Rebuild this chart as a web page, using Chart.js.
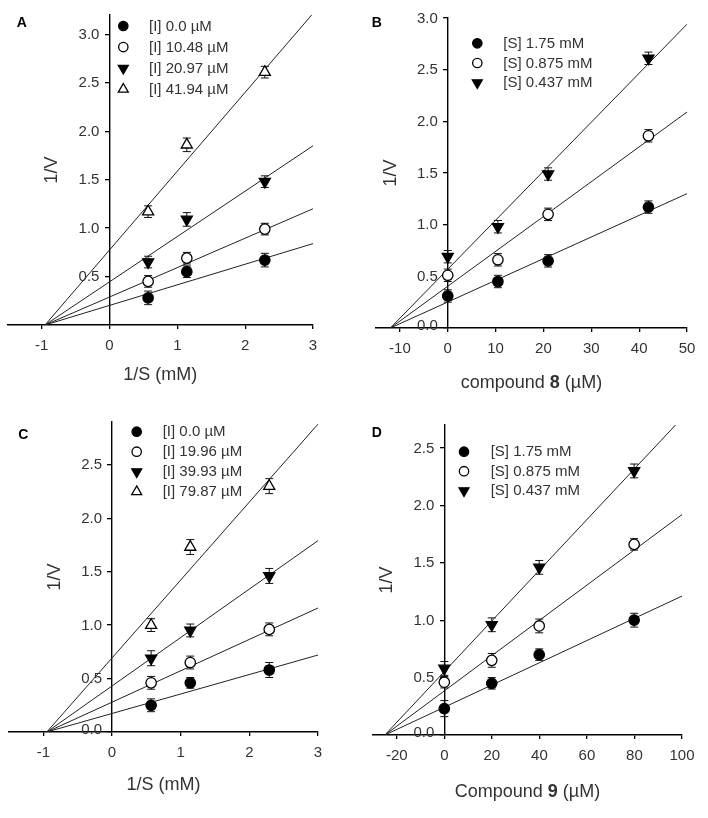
<!DOCTYPE html>
<html><head><meta charset="utf-8">
<script src="https://cdn.jsdelivr.net/npm/chart.js@4.4.0/dist/chart.umd.min.js"></script>
<style>
html,body{margin:0;padding:0;background:#fff;}
#wrap{position:relative;width:708px;height:818px;background:#fff;}
canvas{position:absolute;}
</style></head><body>
<div id="wrap">
<canvas id="cA" width="354" height="400" style="left:0;top:0"></canvas>
<canvas id="cB" width="354" height="400" style="left:354px;top:0"></canvas>
<canvas id="cC" width="354" height="418" style="left:0;top:400px"></canvas>
<canvas id="cD" width="354" height="418" style="left:354px;top:400px"></canvas>
</div>
<script>
// ---------- DATA ----------
// Panel A: Lineweaver-Burk, compound 8
const xA = [0.57, 1.14, 2.29];
const labelsA = ['[I] 0.0 \u00b5M', '[I] 10.48 \u00b5M', '[I] 20.97 \u00b5M', '[I] 41.94 \u00b5M'];
const yA0 = [0.28, 0.55, 0.67];
const yA1 = [0.45, 0.69, 0.99];
const yA2 = [0.65, 1.09, 1.48];
const yA3 = [1.17, 1.86, 2.61];
const eA0 = [0.07, 0.06, 0.07];
const eA1 = [0.06, 0.06, 0.06];
const eA2 = [0.06, 0.07, 0.06];
const eA3 = [0.06, 0.07, 0.06];
const fitA = [[[-0.95, 0], [3, 0.84]], [[-0.95, 0], [3, 1.20]], [[-0.95, 0], [3, 1.85]], [[-0.95, 0], [2.98, 3.2]]];
const xTicksA = [-1, 0, 1, 2, 3];
const yTicksA = [0.5, 1.0, 1.5, 2.0, 2.5, 3.0];

// Panel B: Dixon, compound 8
const xB = [0, 10.48, 20.97, 41.94];
const labelsB = ['[S] 1.75 mM', '[S] 0.875 mM', '[S] 0.437 mM'];
const yB0 = [0.31, 0.45, 0.65, 1.17];
const yB1 = [0.51, 0.66, 1.10, 1.86];
const yB2 = [0.69, 0.98, 1.49, 2.61];
const eB0 = [0.06, 0.06, 0.06, 0.06];
const eB1 = [0.06, 0.06, 0.06, 0.06];
const eB2 = [0.06, 0.06, 0.06, 0.06];
const fitB = [[[-12, 0], [50, 1.30]], [[-12, 0], [50, 2.09]], [[-12, 0], [50, 2.94]]];
const xTicksB = [-10, 0, 10, 20, 30, 40, 50];
const yTicksB = [0.0, 0.5, 1.0, 1.5, 2.0, 2.5, 3.0];

// Panel C: Lineweaver-Burk, compound 9
const xC = [0.57, 1.14, 2.29];
const labelsC = ['[I] 0.0 \u00b5M', '[I] 19.96 \u00b5M', '[I] 39.93 \u00b5M', '[I] 79.87 \u00b5M'];
const yC0 = [0.25, 0.46, 0.58];
const yC1 = [0.46, 0.65, 0.96];
const yC2 = [0.69, 0.95, 1.46];
const yC3 = [1.00, 1.73, 2.30];
const eC0 = [0.06, 0.05, 0.07];
const eC1 = [0.06, 0.06, 0.06];
const eC2 = [0.07, 0.06, 0.07];
const eC3 = [0.06, 0.07, 0.07];
const fitC = [[[-0.95, 0], [3, 0.72]], [[-0.95, 0], [3, 1.16]], [[-0.95, 0], [3, 1.79]], [[-0.95, 0], [3, 2.88]]];
const xTicksC = [-1, 0, 1, 2, 3];
const yTicksC = [0.0, 0.5, 1.0, 1.5, 2.0, 2.5];

// Panel D: Dixon, compound 9
const xD = [0, 19.96, 39.93, 79.87];
const labelsD = ['[S] 1.75 mM', '[S] 0.875 mM', '[S] 0.437 mM'];
const yD0 = [0.23, 0.45, 0.70, 1.00];
const yD1 = [0.46, 0.65, 0.95, 1.66];
const yD2 = [0.58, 0.96, 1.46, 2.30];
const eD0 = [0.07, 0.05, 0.05, 0.06];
const eD1 = [0.05, 0.06, 0.06, 0.05];
const eD2 = [0.06, 0.06, 0.06, 0.06];
const fitD = [[[-25, 0], [100, 1.21]], [[-25, 0], [100, 1.92]], [[-25, 0], [100, 2.76]]];
const xTicksD = [-20, 0, 20, 40, 60, 80, 100];
const yTicksD = [0.0, 0.5, 1.0, 1.5, 2.0, 2.5];

// ---------- STYLE ----------
const FONT = '"Liberation Sans", Arial, Helvetica, sans-serif';
const TXT = '#333333';
const MARKS = [
  {style: 'circle', rot: 0, fill: '#000000', r: 5.2},
  {style: 'circle', rot: 0, fill: '#ffffff', r: 5.2},
  {style: 'triangle', rot: 180, fill: '#000000', r: 6.4},
  {style: 'triangle', rot: 0, fill: '#ffffff', r: 6.4}
];

function drawMarker(ctx, m, x, y, scale) {
  ctx.save();
  ctx.fillStyle = m.fill;
  ctx.strokeStyle = '#000';
  ctx.lineWidth = 1.3;
  Chart.helpers.drawPoint(ctx, {pointStyle: m.style, rotation: m.rot, radius: m.r * (scale || 1), borderWidth: 1.3}, x, y);
  ctx.restore();
}

const deco = {
  id: 'deco',
  beforeDatasetsDraw(chart, args, o) {
    const ctx = chart.ctx, sx = chart.scales.x, sy = chart.scales.y;
    ctx.save();
    ctx.strokeStyle = '#111';
    ctx.lineWidth = 1;
    o.series.forEach(s => {
      s.ys.forEach((v, i) => {
        const px = sx.getPixelForValue(o.xs[i]);
        const t = sy.getPixelForValue(v + s.err[i]);
        const b = sy.getPixelForValue(v - s.err[i]);
        ctx.beginPath();
        ctx.moveTo(px, t); ctx.lineTo(px, b);
        ctx.moveTo(px - 4, t); ctx.lineTo(px + 4, t);
        ctx.moveTo(px - 4, b); ctx.lineTo(px + 4, b);
        ctx.stroke();
      });
    });
    ctx.restore();
  },
  afterDraw(chart, args, o) {
    const ctx = chart.ctx, ca = chart.chartArea, sx = chart.scales.x, sy = chart.scales.y;
    const axisX = sx.getPixelForValue(0);
    ctx.save();
    // y tick labels (values from the y scale)
    ctx.fillStyle = TXT;
    ctx.font = '15px ' + FONT;
    ctx.textAlign = 'right'; ctx.textBaseline = 'middle';
    sy.ticks.forEach(t => {
      let py = sy.getPixelForValue(t.value);
      if (t.value === 0) py -= 3;
      ctx.fillText(t.value.toFixed(1), axisX - 10, py + 0.5);
    });
    // panel letter
    ctx.fillStyle = '#000';
    ctx.font = 'bold 14px ' + FONT;
    ctx.textAlign = 'center';
    ctx.fillText(o.letter, o.letterPos[0], o.letterPos[1]);
    // y title
    ctx.fillStyle = TXT;
    ctx.font = '18px ' + FONT;
    ctx.save();
    ctx.translate(axisX - 57, (ca.top + ca.bottom) / 2);
    ctx.rotate(-Math.PI / 2);
    ctx.fillText('1/V', 0, 0);
    ctx.restore();
    // x title with optional bold part
    const parts = o.xTitle;
    let total = 0;
    parts.forEach(p => { ctx.font = (p.b ? 'bold ' : '') + '18px ' + FONT; p.w = ctx.measureText(p.t).width; total += p.w; });
    let cx = (ca.left + ca.right) / 2 - total / 2;
    const ty = ca.bottom + o.xTitleOff;
    ctx.textAlign = 'left';
    parts.forEach(p => { ctx.font = (p.b ? 'bold ' : '') + '18px ' + FONT; ctx.fillText(p.t, cx, ty); cx += p.w; });
    // legend
    ctx.font = '15px ' + FONT;
    ctx.textBaseline = 'middle';
    o.legend.labels.forEach((lab, i) => {
      const y = o.legend.y0 + i * o.legend.dy;
      drawMarker(ctx, MARKS[i], o.legend.mx, y, 0.9);
      ctx.fillStyle = TXT;
      ctx.fillText(lab, o.legend.tx, y + 0.5);
    });
    ctx.restore();
  }
};

function makePanel(id, p) {
  const datasets = [];
  p.series.forEach((s, i) => {
    const m = MARKS[i];
    datasets.push({
      type: 'scatter',
      data: s.ys.map((v, k) => ({x: p.xs[k], y: v})),
      pointStyle: m.style, rotation: m.rot, pointRadius: m.r,
      pointBackgroundColor: m.fill, pointBorderColor: '#000', pointBorderWidth: 1.3,
      order: 0
    });
  });
  p.fits.forEach(f => {
    datasets.push({
      type: 'scatter', showLine: true,
      data: f.map(q => ({x: q[0], y: q[1]})),
      borderColor: '#222', borderWidth: 1, pointRadius: 0, order: 1
    });
  });
  const gridOpts = {drawOnChartArea: false, drawTicks: true, tickLength: 4, color: '#000', lineWidth: 1.3};
  new Chart(document.getElementById(id), {
    type: 'scatter',
    data: {datasets},
    options: {
      responsive: false, animation: false,
      layout: {padding: {left: p.pad[0], right: p.pad[1], top: p.pad[2], bottom: 0}},
      plugins: {legend: {display: false}, tooltip: {enabled: false}, deco: {
        xs: p.xs, series: p.series, letter: p.letter, letterPos: p.letterPos,
        xTitle: p.xTitle, xTitleOff: p.xTitleOff, legend: p.legend}},
      scales: {
        x: {
          type: 'linear', position: 'bottom', min: p.xRange[0], max: p.xRange[1],
          grid: gridOpts, border: {color: '#000', width: 1.4},
          ticks: {color: TXT, font: {family: FONT, size: 15}, padding: 8},
          afterBuildTicks: sc => { sc.ticks = p.xTicks.map(v => ({value: v})); },
          afterFit: sc => { sc.height = p.xAxisH; sc.paddingLeft = 0; sc.paddingRight = 0; }
        },
        y: {
          type: 'linear', position: {x: 0}, min: p.yRange[0], max: p.yRange[1],
          grid: gridOpts, border: {color: '#000', width: 1.4},
          ticks: {display: false},
          afterBuildTicks: sc => { sc.ticks = p.yTicks.map(v => ({value: v})); },
          afterFit: sc => { sc.paddingTop = 0; sc.paddingBottom = 0; }
        }
      }
    },
    plugins: [deco]
  });
}

makePanel('cA', {
  xs: xA, letter: 'A', letterPos: [21.7, 23.3],
  series: [{ys: yA0, err: eA0}, {ys: yA1, err: eA1}, {ys: yA2, err: eA2}, {ys: yA3, err: eA3}],
  fits: fitA, xTicks: xTicksA, yTicks: yTicksA, xRange: [-1.5, 3], yRange: [0, 3.2],
  pad: [3, 41, 15], xAxisH: 75, xTitleOff: 50,
  xTitle: [{t: '1/S (mM)'}],
  legend: {labels: labelsA, mx: 123.3, tx: 149, y0: 26, dy: 21.1}
});
makePanel('cB', {
  xs: xB, letter: 'B', letterPos: [22.7, 23.3],
  series: [{ys: yB0, err: eB0}, {ys: yB1, err: eB1}, {ys: yB2, err: eB2}],
  fits: fitB, xTicks: xTicksB, yTicks: yTicksB, xRange: [-15, 50], yRange: [0, 3.0],
  pad: [22, 21, 18], xAxisH: 72, xTitleOff: 55,
  xTitle: [{t: 'compound '}, {t: '8', b: true}, {t: ' (\u00b5M)'}],
  legend: {labels: labelsB, mx: 123.3, tx: 149.3, y0: 43.3, dy: 19.7}
});
makePanel('cC', {
  xs: xC, letter: 'C', letterPos: [23.3, 35],
  series: [{ys: yC0, err: eC0}, {ys: yC1, err: eC1}, {ys: yC2, err: eC2}, {ys: yC3, err: eC3}],
  fits: fitC, xTicks: xTicksC, yTicks: yTicksC, xRange: [-1.5, 3], yRange: [0, 2.9],
  pad: [9, 36, 22], xAxisH: 86, xTitleOff: 53,
  xTitle: [{t: '1/S (mM)'}],
  legend: {labels: labelsC, mx: 136.7, tx: 162.7, y0: 31.7, dy: 20}
});
makePanel('cD', {
  xs: xD, letter: 'D', letterPos: [22.7, 33.3],
  series: [{ys: yD0, err: eD0}, {ys: yD1, err: eD1}, {ys: yD2, err: eD2}],
  fits: fitD, xTicks: xTicksD, yTicks: yTicksD, xRange: [-30, 100], yRange: [0, 2.7],
  pad: [19, 26, 25], xAxisH: 83, xTitleOff: 57,
  xTitle: [{t: 'Compound '}, {t: '9', b: true}, {t: ' (\u00b5M)'}],
  legend: {labels: labelsD, mx: 110, tx: 136.7, y0: 51.7, dy: 19.5}
});
</script>
</body></html>
